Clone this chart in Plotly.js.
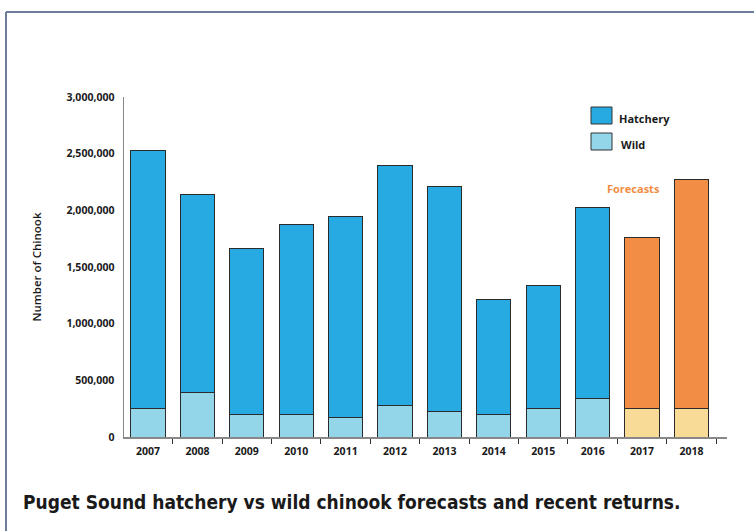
<!DOCTYPE html>
<html><head><meta charset="utf-8">
<script src="https://cdn.plot.ly/plotly-3.0.1.min.js"></script>
<style>html,body{margin:0;padding:0;background:#fff}#chart{width:754px;height:531px}</style>
</head><body><div id="chart"></div>
<script>
const years = ['2007','2008','2009','2010','2011','2012','2013','2014','2015','2016','2017','2018'];
const wild = [253000, 394000, 200000, 200000, 174000, 280000, 223000, 200000, 253000, 338000, 253000, 253000];
const totals = [2532000, 2144000, 1659000, 1871000, 1950000, 2400000, 2206000, 1209000, 1341000, 2029000, 1756000, 2268000];
const isForecast = [false,false,false,false,false,false,false,false,false,false,true,true];
const hatchery = totals.map((t,i)=>t-wild[i]);

const C_H='#27a9e1', C_W='#93d6e9', C_FH='#f18d44', C_FW='#f7db96';
const W=754,H=531,L=124,R=27,T=97,B=94;
const px=x=>(x-L)/(W-L-R), py=y=>(H-B-y)/(H-T-B);

const wildTrace={type:'bar',x:years,y:wild,name:'Wild',width:0.69,
  marker:{color:wild.map((v,i)=>isForecast[i]?C_FW:C_W),line:{color:'#2b2b2b',width:1}},showlegend:false};
const hatchTrace={type:'bar',x:years,y:hatchery,name:'Hatchery',width:0.69,
  marker:{color:hatchery.map((v,i)=>isForecast[i]?C_FH:C_H),line:{color:'#2b2b2b',width:1}},showlegend:false};

const fam='Open Sans, sans-serif';
const layout={
  width:W,height:H,margin:{l:L,r:R,t:T,b:B},barmode:'stack',
  paper_bgcolor:'#fff',plot_bgcolor:'#fff',showlegend:false,
  xaxis:{type:'category',range:[-0.486,11.72],showline:true,linecolor:'#888',linewidth:1.5,
    ticks:'outside',tickson:'boundaries',ticklen:5,tickcolor:'#333',showgrid:false,ticklabelstandoff:4,
    tickfont:{family:fam,size:10.5,color:'#1a1a1a',weight:700},fixedrange:true},
  yaxis:{range:[0,3000000],showline:true,linecolor:'#888',linewidth:1.5,showgrid:false,zeroline:false,
    tickvals:[0,500000,1000000,1500000,2000000,2500000,3000000],
    ticktext:['0','500,000','1,000,000','1,500,000','2,000,000','2,500,000','3,000,000'],
    ticks:'',ticklabelstandoff:6,tickfont:{family:fam,size:10.5,color:'#1a1a1a',weight:700},
    title:{text:'Number of Chinook',font:{family:fam,size:11.5,color:'#1a1a1a',weight:600},standoff:22}},
  shapes:[
    {type:'line',xref:'paper',yref:'paper',x0:px(6),x1:px(760),y0:py(12),y1:py(12),line:{color:'#6d7c9c',width:2}},
    {type:'line',xref:'paper',yref:'paper',x0:px(6),x1:px(6),y0:py(12),y1:py(540),line:{color:'#6d7c9c',width:2}},
    {type:'rect',xref:'paper',yref:'paper',x0:px(591),x1:px(612),y0:py(124),y1:py(107),fillcolor:C_H,line:{color:'#333',width:1}},
    {type:'rect',xref:'paper',yref:'paper',x0:px(591),x1:px(612),y0:py(150),y1:py(133),fillcolor:C_W,line:{color:'#333',width:1}}
  ],
  annotations:[
    {xref:'paper',yref:'paper',x:px(617),y:py(118),xanchor:'left',yanchor:'middle',showarrow:false,text:'Hatchery',
      font:{family:fam,size:11,color:'#1a1a1a',weight:700}},
    {xref:'paper',yref:'paper',x:px(619),y:py(144),xanchor:'left',yanchor:'middle',showarrow:false,text:'Wild',
      font:{family:fam,size:11,color:'#1a1a1a',weight:700}},
    {xref:'paper',yref:'paper',x:px(662),y:py(188),xanchor:'right',yanchor:'middle',showarrow:false,text:'Forecasts',
      font:{family:fam,size:11,color:C_FH,weight:700}},
    {xref:'paper',yref:'paper',x:px(21),y:py(502),xanchor:'left',yanchor:'middle',showarrow:false,
      text:'Puget Sound hatchery vs wild chinook forecasts and recent returns.',
      font:{family:'DejaVu Sans Condensed, sans-serif',size:19,color:'#1a1a1a',weight:700}}
  ]
};
Plotly.newPlot('chart',[wildTrace,hatchTrace],layout,{displayModeBar:false,staticPlot:true});
</script></body></html>
